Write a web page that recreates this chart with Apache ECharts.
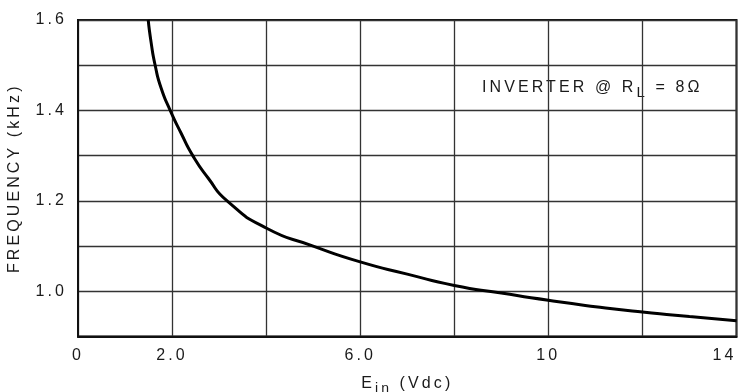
<!DOCTYPE html>
<html>
<head>
<meta charset="utf-8">
<script src="https://cdn.jsdelivr.net/npm/echarts@6/dist/echarts.min.js"></script>
<style>
html,body{margin:0;padding:0;background:#fff;}
#chart{width:743px;height:392px;}
</style>
</head>
<body>
<div id="chart"></div>
<script>
// Data
var vin = [1.493, 1.555, 1.64, 1.765, 1.96, 2.19, 2.44, 2.77, 3.17, 4.0, 5.0, 6.0, 7.0, 8.0, 9.0, 10, 11, 12, 13, 14];
var freq = [1.60, 1.55, 1.50, 1.45, 1.40, 1.35, 1.30, 1.25, 1.20, 1.14, 1.10, 1.065, 1.038, 1.013, 0.996, 0.98, 0.966, 0.954, 0.944, 0.935];
var xTickValues = [0, 2, 6, 10, 14];
var xTickText = ['0', '2.0', '6.0', '10', '14'];
var yTickValues = [1.0, 1.2, 1.4, 1.6];
var yTickText = ['1.0', '1.2', '1.4', '1.6'];
var xName = 'E{sub|in} (Vdc)';
var yName = 'FREQUENCY (kHz)';
var noteText = 'INVERTER @ R{sub|L} = 8Ω';

var points = vin.map(function (v, i) { return [v, freq[i]]; });
var FONT = '"Liberation Sans", Arial, sans-serif';
var TXT = '#1a1a1a';

// Wide letter tracking, as in the printed original
var TRACK = 3.1;
(function () {
  var origFill = CanvasRenderingContext2D.prototype.fillText;
  CanvasRenderingContext2D.prototype.fillText = function (t, x, y, m) {
    this.letterSpacing = TRACK + 'px';
    return m === undefined ? origFill.call(this, t, x, y) : origFill.call(this, t, x, y, m);
  };
  var mctx = document.createElement('canvas').getContext('2d');
  if (echarts.setPlatformAPI) {
    echarts.setPlatformAPI({
      measureText: function (text, font) {
        mctx.font = font || '12px sans-serif';
        text = text == null ? '' : String(text);
        return { width: mctx.measureText(text).width + text.length * TRACK };
      }
    });
  }
})();

function lookup(values, texts, v) {
  for (var i = 0; i < values.length; i++) {
    if (Math.abs(values[i] - v) < 1e-6) return texts[i];
  }
  return '';
}

var chart = echarts.init(document.getElementById('chart'));
chart.setOption({
  animation: false,
  backgroundColor: '#fff',
  grid: {
    left: 78, right: 6.5, top: 20, bottom: 55.5,
    outerBoundsMode: 'none', containLabel: false,
    show: true, borderColor: '#111', borderWidth: 2, backgroundColor: 'transparent'
  },
  xAxis: {
    type: 'value', min: 0, max: 14, interval: 2,
    axisLine: { show: true, lineStyle: { color: '#111', width: 2 } },
    axisTick: { show: false },
    splitLine: { show: true, lineStyle: { color: '#333', width: 1.3 } },
    axisLabel: {
      margin: 10, color: TXT, fontFamily: FONT, fontSize: 16,
      alignMaxLabel: 'right',
      formatter: function (v) { return lookup(xTickValues, xTickText, v); }
    },
    name: xName, nameLocation: 'middle', nameGap: 34,
    nameTextStyle: {
      color: TXT, fontFamily: FONT, fontSize: 16,
      rich: { sub: { fontFamily: FONT, fontSize: 14, color: TXT, padding: [10, 0, 0, 0] } }
    }
  },
  yAxis: {
    type: 'value', min: 0.9, max: 1.6, interval: 0.1,
    axisLine: { show: true, lineStyle: { color: '#111', width: 2 } },
    axisTick: { show: false },
    splitLine: { show: true, lineStyle: { color: '#333', width: 1.3 } },
    axisLabel: {
      margin: 11, color: TXT, fontFamily: FONT, fontSize: 16,
      formatter: function (v) { return lookup(yTickValues, yTickText, v); }
    },
    name: yName, nameLocation: 'middle', nameGap: 49, nameRotate: 90,
    nameTextStyle: { color: TXT, fontFamily: FONT, fontSize: 16 }
  },
  series: [{
    type: 'line',
    data: points,
    smooth: 0.6,
    showSymbol: false,
    clip: true,
    lineStyle: { color: '#000', width: 3 }
  }],
  graphic: [{
    type: 'text',
    left: 482, top: 78,
    style: {
      text: noteText,
      fill: TXT, font: '16px ' + FONT,
      rich: { sub: { fontFamily: FONT, fontSize: 15, fill: TXT, padding: [10, 0, 0, 0] } }
    }
  }]
});
</script>
</body>
</html>
